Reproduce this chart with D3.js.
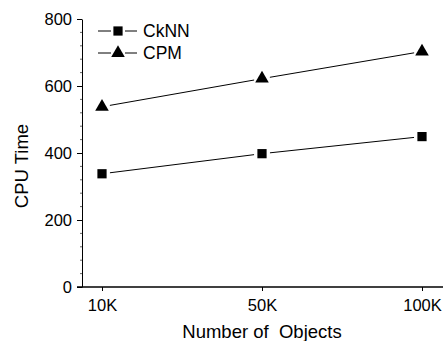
<!DOCTYPE html>
<html>
<head>
<meta charset="utf-8">
<script src="https://cdn.jsdelivr.net/npm/d3@7"></script>
<style>
  body { margin: 0; background: #fff; }
  svg { font-family: "Liberation Sans", Arial, sans-serif; }
</style>
</head>
<body>
<div id="chart"></div>
<script>
// data
const categories = ["10K", "50K", "100K"];
const cknn = [338, 398, 449];
const cpm = [538, 622, 703];
const yTicks = [0, 200, 400, 600, 800];

const width = 443, height = 341;

const svg = d3.select("#chart")
    .append("svg")
    .attr("width", width)
    .attr("height", height);

const x = d3.scalePoint()
    .domain(categories)
    .range([102, 422]);

const y = d3.scaleLinear()
    .domain([0, 800])
    .range([287, 19]);

const x0 = 82;

// Y axis
const yAxis = svg.append("g")
    .attr("transform", `translate(${x0},0)`)
    .call(d3.axisLeft(y).tickValues(yTicks).tickSize(5).tickSizeOuter(0).tickPadding(5));
yAxis.select(".domain").attr("stroke", "#000");
yAxis.selectAll("text")
    .attr("font-size", "16.5px")
    .attr("font-family", "Liberation Sans, Arial, sans-serif")
    .attr("fill", "#000");

// minor ticks
svg.append("g")
    .selectAll("line")
    .data(d3.range(0, 801, 40).filter(v => v % 200 !== 0))
    .enter()
    .append("line")
    .attr("x1", x0 - 2)
    .attr("x2", x0)
    .attr("y1", d => y(d))
    .attr("y2", d => y(d))
    .attr("stroke", "#666")
    .attr("stroke-width", 1);

// X axis
const xAxis = svg.append("g")
    .attr("transform", `translate(0,${y(0)})`)
    .call(d3.axisBottom(x).tickSize(4).tickSizeOuter(0).tickPadding(8));
xAxis.select(".domain").remove();
xAxis.append("line")
    .attr("x1", x0 - 5)
    .attr("x2", width)
    .attr("stroke", "#000")
    .attr("stroke-width", 1.3);
xAxis.selectAll("text")
    .attr("font-size", "16.5px")
    .attr("font-family", "Liberation Sans, Arial, sans-serif")
    .attr("fill", "#000");

// axis titles
svg.append("text")
    .attr("x", 262)
    .attr("y", 338)
    .attr("text-anchor", "middle")
    .attr("font-size", "18.5px")
    .style("white-space", "pre")
    .text("Number of  Objects");

svg.append("text")
    .attr("transform", "translate(28,166) rotate(-90)")
    .attr("text-anchor", "middle")
    .attr("font-size", "18.5px")
    .text("CPU Time");

// series
const series = [
    { name: "CkNN", values: cknn, symbol: d3.symbolSquare, size: 85 },
    { name: "CPM", values: cpm, symbol: d3.symbolTriangle, size: 80 }
];

const gap = 8;

series.forEach(s => {
    const pts = s.values.map((v, i) => [x(categories[i]), y(v)]);
    const segs = d3.pairs(pts).map(([a, b]) => {
        const dx = b[0] - a[0], dy = b[1] - a[1];
        const len = Math.hypot(dx, dy);
        const ux = dx / len, uy = dy / len;
        return [a[0] + ux * gap, a[1] + uy * gap, b[0] - ux * gap, b[1] - uy * gap];
    });

    svg.append("g")
        .selectAll("line")
        .data(segs)
        .enter()
        .append("line")
        .attr("x1", d => d[0])
        .attr("y1", d => d[1])
        .attr("x2", d => d[2])
        .attr("y2", d => d[3])
        .attr("stroke", "#000")
        .attr("stroke-width", 1);

    svg.append("g")
        .selectAll("path")
        .data(pts)
        .enter()
        .append("path")
        .attr("transform", d => `translate(${d[0]},${d[1]})`)
        .attr("d", d3.symbol().type(s.symbol).size(s.size))
        .attr("fill", "#000");
});

// legend: line - marker - line, with small gaps
const legend = svg.append("g");
series.forEach((s, i) => {
    const ly = 31 + i * 22;
    [[98, 111], [125, 137]].forEach(([a, b]) => {
        legend.append("line")
            .attr("x1", a)
            .attr("x2", b)
            .attr("y1", ly)
            .attr("y2", ly)
            .attr("stroke", "#000")
            .attr("stroke-width", 1);
    });
    legend.append("path")
        .attr("transform", `translate(118,${ly})`)
        .attr("d", d3.symbol().type(s.symbol).size(s.size))
        .attr("fill", "#000");
    legend.append("text")
        .attr("x", 143)
        .attr("y", ly)
        .attr("dy", "0.35em")
        .attr("font-size", "17.5px")
        .text(s.name);
});
</script>
</body>
</html>
